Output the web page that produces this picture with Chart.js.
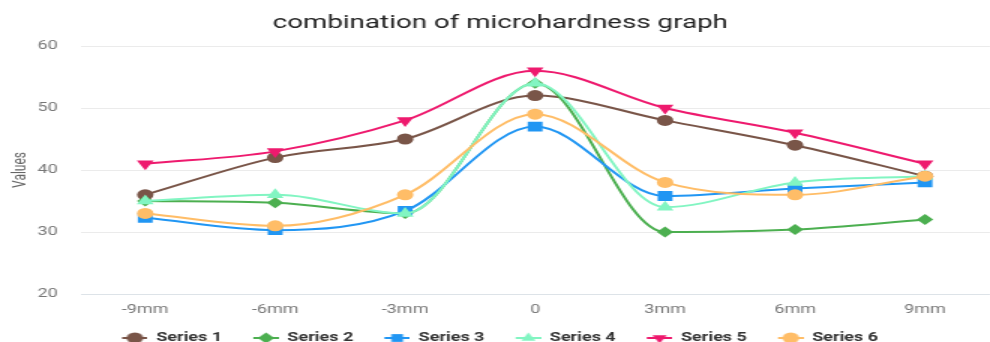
<!DOCTYPE html>
<html>
<head>
<meta charset="utf-8">
<script src="https://cdn.jsdelivr.net/npm/chart.js@4"></script>
<style>
  html, body { margin: 0; padding: 0; background: #fff; overflow: hidden; }
  #frame { width: 990px; height: 342px; overflow: hidden; position: relative; }
  /* chart is laid out narrow and widened 1.5x horizontally */
  #stage { width: 667px; height: 342px; transform: scaleX(1.5); transform-origin: 0 0; }
</style>
</head>
<body>
<div id="frame"><div id="stage"><canvas id="c"></canvas></div></div>
<script>
const positions = ['-9mm', '-6mm', '-3mm', '0', '3mm', '6mm', '9mm'];
const seriesNames = ['Series 1', 'Series 2', 'Series 3', 'Series 4', 'Series 5', 'Series 6'];

const series1 = [36, 42, 45, 52, 48, 44, 39];
const series2 = [35, 34.7, 33, 54, 30, 30.4, 32];
const series3 = [32.3, 30.3, 33.4, 47, 35.8, 37, 38];
const series4 = [35, 36, 33, 54, 34, 38, 39];
const series5 = [41, 43, 48, 56, 50, 46, 41];
const series6 = [33, 31, 36, 49, 38, 36, 39];

const yMin = 20, yMax = 60, yStep = 10;

const colors = ['#795548', '#4CAF50', '#2196F3', '#82F5C2', '#EE1A6E', '#FFBD67'];
const markers = [
  { style: 'circle',   radius: 5.5, rotation: 0 },
  { style: 'rectRot',  radius: 5.5, rotation: 0 },
  { style: 'rect',     radius: 7,   rotation: 0 },
  { style: 'triangle', radius: 6.5, rotation: 0 },
  { style: 'triangle', radius: 6.5, rotation: 180 },
  { style: 'circle',   radius: 5.5, rotation: 0 }
];

const allSeries = [series1, series2, series3, series4, series5, series6];

Chart.defaults.font.family = 'Roboto';

// legend swatch: a short line with the series marker, right-aligned in a wider box
const SWATCH_W = 17, BOX_W = 27.5;
function makeIcon(color, marker) {
  const cv = document.createElement('canvas');
  cv.width = Math.round(BOX_W); cv.height = 12;
  const g = cv.getContext('2d');
  const x0 = cv.width - SWATCH_W;
  g.strokeStyle = color;
  g.lineWidth = 2;
  g.beginPath(); g.moveTo(x0, 6); g.lineTo(cv.width, 6); g.stroke();
  g.fillStyle = color;
  Chart.helpers.drawPoint(g, {
    pointStyle: marker.style,
    rotation: marker.rotation,
    radius: Math.min(marker.radius, 5.5),
    borderWidth: 0
  }, x0 + SWATCH_W / 2, 6);
  return cv;
}
const icons = colors.map((c, i) => makeIcon(c, markers[i]));

// the swatch's blank lead-in pushes the legend right; pull it back to centre
const legendCentre = {
  id: 'legendCentre',
  afterLayout(chart) {
    const lg = chart.legend;
    if (!lg) return;
    const shift = (Math.round(BOX_W) - SWATCH_W) / 2;
    lg.left -= shift;
    lg.right -= shift;
  }
};

const datasets = allSeries.map((vals, i) => ({
  label: seriesNames[i],
  data: vals,
  borderColor: colors[i],
  backgroundColor: colors[i],
  borderWidth: 2,
  pointStyle: markers[i].style,
  pointRotation: markers[i].rotation,
  pointRadius: markers[i].radius,
  pointHoverRadius: markers[i].radius,
  pointBorderWidth: 0,
  pointBackgroundColor: colors[i],
  cubicInterpolationMode: 'monotone',
  fill: false,
  order: allSeries.length - 1 - i
}));

new Chart(document.getElementById('c'), {
  type: 'line',
  data: { labels: positions, datasets },
  plugins: [legendCentre],
  options: {
    responsive: true,
    maintainAspectRatio: false,
    animation: false,
    layout: { padding: { top: 0, left: 0, right: 0, bottom: -12 } },
    plugins: {
      title: {
        display: true,
        text: 'combination of microhardness graph',
        color: '#222',
        font: { size: 18.5, weight: 'normal' },
        padding: { top: 12, bottom: 11.8 }
      },
      legend: {
        position: 'bottom',
        labels: {
          usePointStyle: true,
          pointStyleWidth: BOX_W,
          padding: 10,
          color: '#333',
          font: { size: 12, weight: 'bold' },
          generateLabels(chart) {
            return chart.data.datasets.map((ds, i) => ({
              text: ds.label,
              pointStyle: icons[i],
              fillStyle: ds.backgroundColor,
              strokeStyle: ds.borderColor,
              lineWidth: 0,
              fontColor: '#333',
              hidden: !chart.isDatasetVisible(i),
              datasetIndex: i
            }));
          }
        }
      },
      tooltip: { enabled: false }
    },
    scales: {
      x: {
        offset: true,
        grid: { display: false, drawTicks: false },
        border: { display: false },
        ticks: { color: '#777', font: { size: 12 }, padding: 8.5 },
        afterFit(scale) { scale.height = 28; }
      },
      y: {
        min: yMin,
        max: yMax,
        ticks: { stepSize: yStep, color: '#777', font: { size: 12 }, padding: 15 },
        grid: {
          color: (ctx) => (ctx.tick && ctx.tick.value === yMin ? '#dde3e8' : '#ebebeb'),
          lineWidth: 1,
          drawTicks: false
        },
        border: { display: false },
        title: { display: true, text: 'Values', color: '#666', font: { size: 12 }, padding: { top: 6.5, bottom: 0 } },
        afterFit(scale) { scale.width = 53.5; }
      }
    }
  }
});
</script>
</body>
</html>
